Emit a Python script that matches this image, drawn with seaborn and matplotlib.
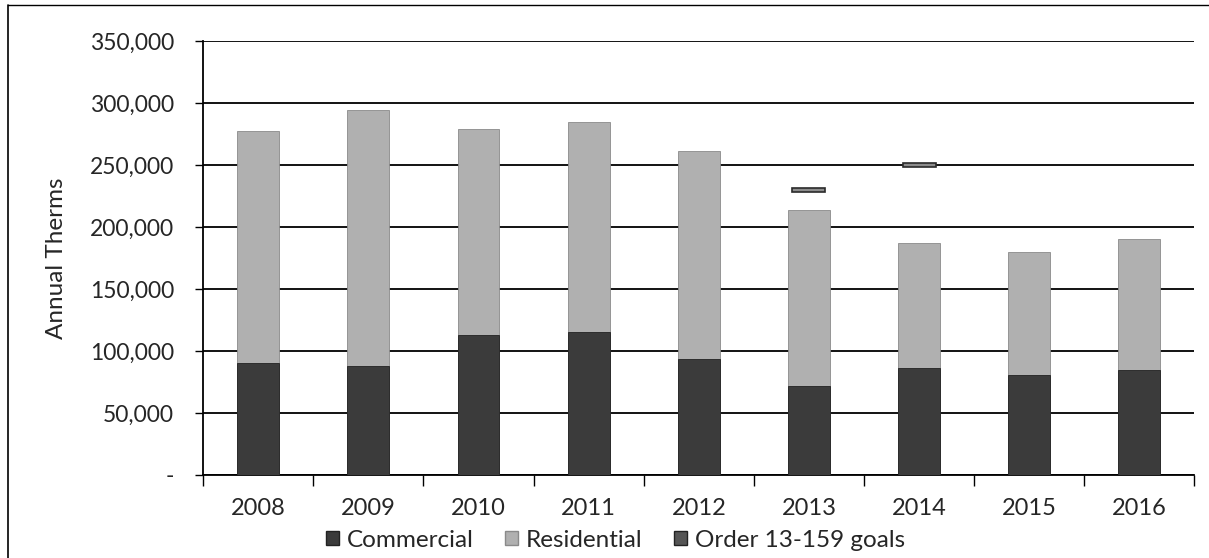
import numpy as np
import pandas as pd
import matplotlib
matplotlib.use("Agg")
import matplotlib.pyplot as plt
from matplotlib.lines import Line2D
from matplotlib.patches import Patch
from matplotlib.ticker import FuncFormatter, FixedLocator
import seaborn as sns

years = ["2008", "2009", "2010", "2011", "2012", "2013", "2014", "2015", "2016"]
commercial = [90000, 87500, 113000, 115500, 93500, 72000, 86000, 80500, 84700]
residential = [187700, 206800, 166000, 169500, 168000, 141700, 100900, 99500, 105300]
goal_years = ["2013", "2014"]
goals = [230000, 250000]

sns.set_theme(style="white")
plt.rcParams["font.family"] = ["Lato", "DejaVu Sans"]

df = pd.DataFrame({"year": years, "commercial": commercial, "residential": residential})
df["total"] = df["commercial"] + df["residential"]

fig = plt.figure(figsize=(12.09, 5.58), dpi=100)
ax = fig.add_axes([0.168, 0.149, 0.820, 0.7775])

c_com = "#3b3b3b"
c_res = "#b0b0b0"

sns.barplot(data=df, x="year", y="total", color=c_res, width=0.38, ax=ax,
            saturation=1, edgecolor="#8a8a8a", linewidth=0.6, zorder=3)
sns.barplot(data=df, x="year", y="commercial", color=c_com, width=0.38, ax=ax,
            saturation=1, edgecolor="#222222", linewidth=0.6, zorder=4)

gx = [years.index(y) for y in goal_years]
ax.bar(gx, [3600] * len(goals), bottom=np.array(goals) - 1800, width=0.3,
       color="#8c8c8c", edgecolor="#2a2a2a", linewidth=1.2, zorder=5)

ax.set_ylim(0, 350000)
ax.set_xlim(-0.5, len(years) - 0.5)
ax.set_yticks(np.arange(0, 350001, 50000))
ax.yaxis.set_major_formatter(FuncFormatter(lambda v, p: "-" if v == 0 else f"{int(v):,}"))
ax.grid(axis="y", color="black", linewidth=1.3, zorder=0)
ax.set_axisbelow(True)

ax.set_xlabel("")
ax.set_ylabel("Annual Therms", fontsize=17.5, labelpad=16)
ax.tick_params(axis="y", labelsize=16.5, length=6, width=1, color="black", left=True, pad=15)
ax.tick_params(axis="x", which="major", labelsize=17, length=0, pad=17)
ax.xaxis.set_minor_locator(FixedLocator(np.arange(-0.5, len(years), 1.0)))
ax.tick_params(axis="x", which="minor", length=8, width=1, color="black", bottom=True)

for s in ["top", "right"]:
    ax.spines[s].set_visible(False)
for s in ["left", "bottom"]:
    ax.spines[s].set_color("black")
    ax.spines[s].set_linewidth(1.3)

handles = [Patch(facecolor=c_com, edgecolor="#222222", label="Commercial"),
           Patch(facecolor=c_res, edgecolor="#8a8a8a", label="Residential"),
           Patch(facecolor="#555555", edgecolor="#222222", label="Order 13-159 goals")]
fig.legend(handles=handles, loc="center", bbox_to_anchor=(0.509, 0.032), ncol=3,
           frameon=False, fontsize=17.5, handlelength=0.55, handleheight=0.55,
           handletextpad=0.3, columnspacing=1.3)

# outer chart frame (partially visible)
fig.add_artist(Line2D([8 / 1209, 8 / 1209], [0, 1 - 5 / 558], transform=fig.transFigure,
                      color="black", linewidth=1.2))
fig.add_artist(Line2D([8 / 1209, 1], [1 - 5 / 558, 1 - 5 / 558], transform=fig.transFigure,
                      color="black", linewidth=1.0))

fig.savefig("out.png", dpi=100)
